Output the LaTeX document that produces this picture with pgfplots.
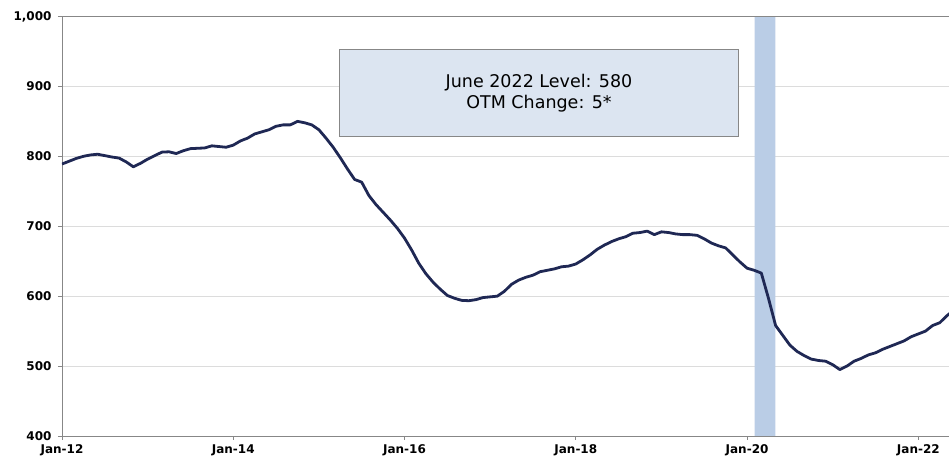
\documentclass[border=0pt]{standalone}
\usepackage{pgfplots}
\pgfplotsset{compat=1.18}
\usepackage{fontspec}
\setmainfont{DejaVu Sans}

\definecolor{navy}{RGB}{31,40,84}
\definecolor{band}{RGB}{186,205,230}
\definecolor{boxfill}{RGB}{220,229,241}
\definecolor{gridc}{RGB}{220,220,220}
\definecolor{axisc}{RGB}{135,135,135}

% monthly level, month 0 = Jan 2012
\pgfplotstableread{
m v
0 789
1 793
2 797
3 800
4 802
5 803
6 801
7 799
8 797.5
9 792
10 785
11 790
12 796
13 801
14 806
15 806.5
16 804
17 808
18 811
19 811.5
20 812
21 815
22 814
23 813
24 816
25 822
26 826
27 832
28 835
29 838
30 843
31 845
32 845
33 850
34 848
35 845
36 838
37 826
38 813
39 798
40 782
41 767
42 763
43 744
44 731
45 720
46 709
47 697
48 683
49 666
50 647
51 632
52 620
53 610
54 601
55 597
56 594
57 593.5
58 595
59 598
60 599
61 600
62 607
63 617
64 623
65 627
66 630
67 635
68 637
69 639
70 642
71 643
72 646
73 652
74 659
75 667
76 673
77 678
78 682
79 685
80 690
81 691
82 693
83 688
84 692
85 691
86 689
87 688
88 688
89 687
90 682
91 676
92 672
93 669
94 659
95 649
96 640
97 637
98 633
99 597
100 558
101 544
102 530
103 521
104 515
105 510
106 508
107 507
108 502
109 495
110 500
111 507
112 511
113 516
114 519
115 524
116 528
117 532
118 536
119 542
120 546
121 550
122 558
123 562
124 572
125 580
}\level

\begin{document}
\begin{tikzpicture}
\useasboundingbox (-62pt,-21pt) rectangle (887pt,436pt);
\begin{axis}[
    scale only axis,
    width=887pt, height=419.5pt,
    xmin=0, xmax=124.3,
    ymin=400, ymax=1000,
    axis lines*=left,
    axis line style={axisc, line width=0.8pt},
    xtick={0,24,48,72,96,120},
    xticklabels={Jan-12,Jan-14,Jan-16,Jan-18,Jan-20,Jan-22},
    ytick={400,500,...,1000},
    tick align=outside,
    major tick length=4pt,
    tick style={axisc, line width=0.8pt},
    ymajorgrids,
    grid style={gridc, line width=0.8pt},
    /pgf/number format/assume math mode=true,
    /pgf/number format/1000 sep={,},
    tick label style={font=\fontsize{12}{13}\selectfont\bfseries},
    xticklabel style={yshift=-1pt},
    yticklabel style={xshift=-3pt},
    clip=true,
]
\addplot[draw=none, fill=band] coordinates {(97.06,400) (97.06,1000) (99.96,1000) (99.96,400)} \closedcycle;
\addplot[navy, line width=2.8pt, line join=round] table[x=m, y=v] {\level};
\draw[axisc, line width=0.8pt] (rel axis cs:0,1) -- (rel axis cs:1,1);
\draw[axisc, line width=0.8pt, fill=boxfill] (axis cs:38.9,953) rectangle (axis cs:94.8,828);
\node[align=center, font=\fontsize{17.5}{21}\selectfont] at (axis cs:66.85,890.5)
    {June 2022 Level: 580\\OTM Change: 5*};
\end{axis}
\end{tikzpicture}
\end{document}
